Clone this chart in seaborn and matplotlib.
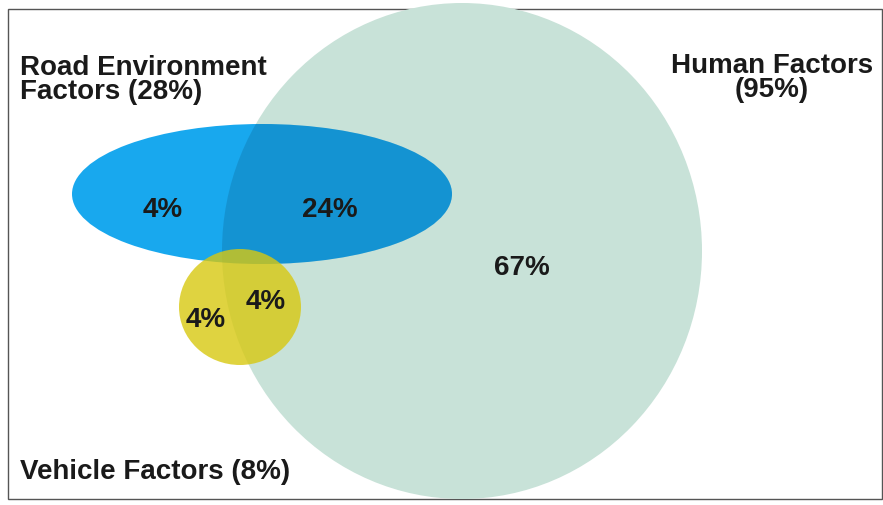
import matplotlib
matplotlib.use("Agg")
import matplotlib.pyplot as plt
from matplotlib.patches import Ellipse, Rectangle
import seaborn as sns

sns.set_style("white")
plt.rcParams['font.family'] = ['Liberation Sans', 'DejaVu Sans']

# sets: name, center (x, y), width, height, colour
set_names = ['Human Factors\n(95%)', 'Road Environment\nFactors (28%)', 'Vehicle Factors (8%)']
set_centers = [(462, 252), (262, 195), (240, 308)]
set_sizes = [(480, 496), (380, 140), (122, 116)]
set_colors = ['#c8e2d8', '#18a8ee', '#d8c810']

# region labels
region_text = ['67%', '24%', '4%', '4%', '4%']
region_pos = [(522, 268), (330, 210), (163, 210), (206, 320), (266, 302)]

label_pos = [(772, 78), (20, 80), (20, 472)]
label_ha = ['center', 'left', 'left']

fig = plt.figure(figsize=(8.83, 5.06), dpi=100)
ax = fig.add_axes([0, 0, 1, 1])
ax.set_xlim(0, 883)
ax.set_ylim(506, 0)
ax.axis('off')

ax.add_patch(Rectangle((8, 10), 874, 490, fill=False, ec='#555555', lw=1))

human = Ellipse(set_centers[0], *set_sizes[0], fc=set_colors[0], ec='none')
road = Ellipse(set_centers[1], *set_sizes[1], fc=set_colors[1], ec='none')
vehicle = Ellipse(set_centers[2], *set_sizes[2], fc=set_colors[2], ec='none', alpha=0.8)
ax.add_patch(human)
ax.add_patch(road)
# darker overlap of road and human
shade = Ellipse(set_centers[0], *set_sizes[0], fc='#0a4a70', ec='none', alpha=0.22)
ax.add_patch(shade)
shade.set_clip_path(road)
ax.add_patch(vehicle)

for t, (x, y) in zip(region_text, region_pos):
    ax.text(x, y, t, ha='center', va='center', fontsize=20, fontweight='bold', color='#1a1a1a')

for t, (x, y), ha in zip(set_names, label_pos, label_ha):
    ax.text(x, y, t, ha=ha, va='center', fontsize=20, fontweight='bold', color='#1a1a1a',
            linespacing=0.9)

fig.savefig('out.png', dpi=100)
